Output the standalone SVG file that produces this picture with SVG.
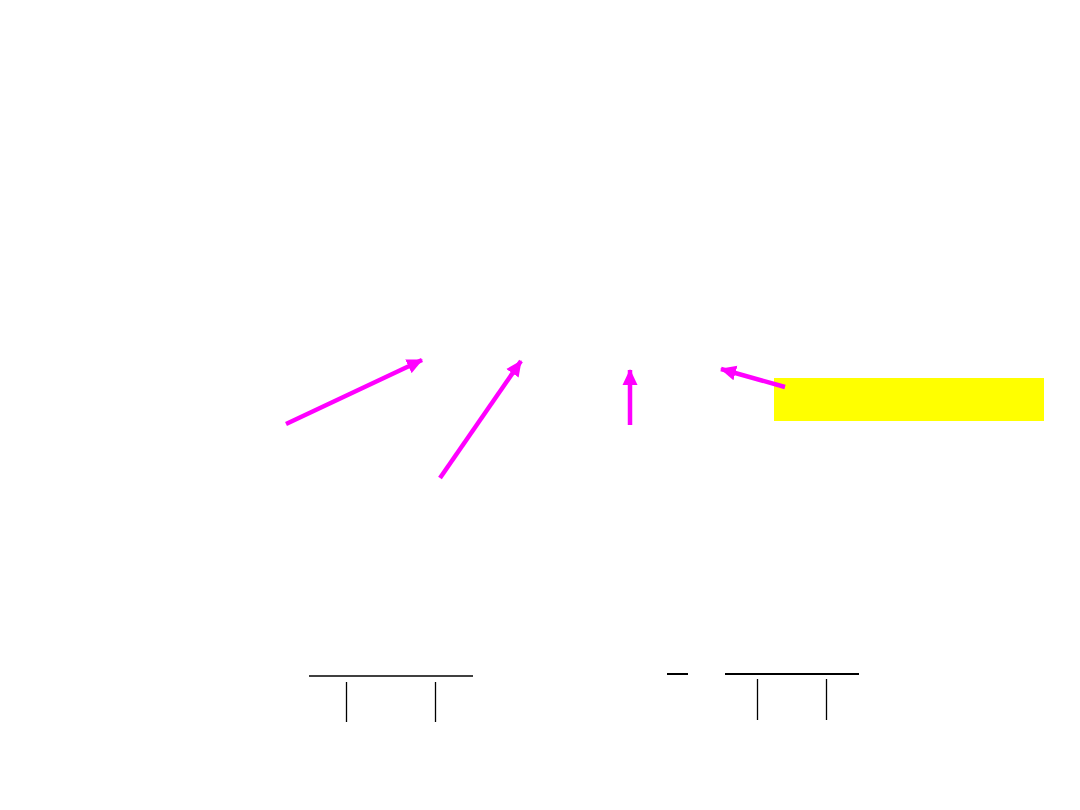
<svg xmlns="http://www.w3.org/2000/svg" width="1080" height="810" viewBox="0 0 1080 810">
<defs>
<style>
.arr{stroke:#FF00FF;stroke-width:4.5;fill:none;marker-end:url(#ah)}
.ln{stroke:#000;stroke-width:1.3;fill:none}
</style>
<marker id="ah" markerUnits="userSpaceOnUse" markerWidth="17" markerHeight="16" viewBox="0 0 17 16" refX="15" refY="8" orient="auto">
<path d="M0,0.5 L16,8 L0,15.5 Z" fill="#FF00FF"/>
</marker>
</defs>
<rect width="1080" height="810" fill="#fff"/>
<g id="yellow-box"><rect x="774" y="378" width="270" height="43" fill="#FFFF00"/></g>
<g id="connectors">
<line class="arr" x1="286" y1="424" x2="422" y2="360"/>
<line class="arr" x1="440" y1="478" x2="521" y2="361"/>
<line class="arr" x1="630" y1="425" x2="630" y2="370"/>
<line class="arr" x1="785" y1="387" x2="721" y2="369"/>
</g>
<g id="left-bracket">
<line class="ln" x1="309" y1="676" x2="473" y2="676"/>
<line class="ln" x1="346.5" y1="682" x2="346.5" y2="722"/>
<line class="ln" x1="435.5" y1="682" x2="435.5" y2="722"/>
</g>
<g id="right-bracket">
<line class="ln" x1="667" y1="674" x2="688" y2="674" style="stroke-width:2"/>
<line class="ln" x1="725" y1="674" x2="859" y2="674" style="stroke-width:2"/>
<line class="ln" x1="757.5" y1="679" x2="757.5" y2="720"/>
<line class="ln" x1="826.5" y1="679" x2="826.5" y2="720"/>
</g>
</svg>
